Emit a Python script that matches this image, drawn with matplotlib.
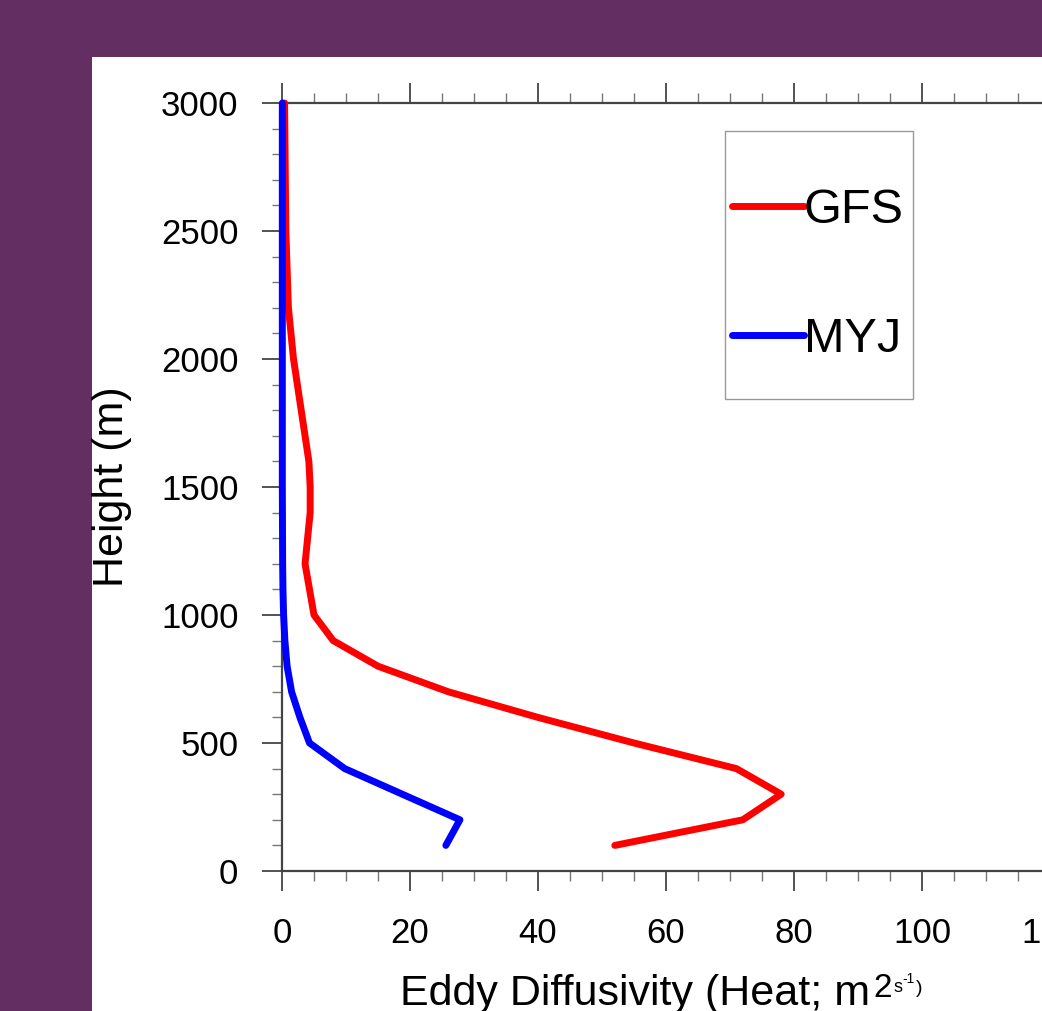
import matplotlib
matplotlib.use("Agg")
import matplotlib.pyplot as plt
from matplotlib.patches import Rectangle
from matplotlib.ticker import MultipleLocator

# ---- data ----
gfs_height = [100, 200, 300, 400, 500, 600, 700, 800, 900, 1000, 1200, 1300,
              1400, 1500, 1600, 1700, 2000, 2200, 2500, 3000]
gfs_k = [52, 72, 78, 71, 55, 40, 26, 15, 8, 5, 3.6, 4.0,
         4.4, 4.4, 4.2, 3.6, 1.8, 1.0, 0.6, 0.4]

myj_height = [100, 200, 300, 400, 500, 600, 700, 800, 900, 1000, 1100, 1200,
              1500, 2000, 2500, 3000]
myj_k = [25.6, 27.8, 18.8, 9.8, 4.3, 2.8, 1.5, 0.8, 0.45, 0.25, 0.15, 0.1,
         0.05, 0.05, 0.05, 0.05]

series_names = ["GFS", "MYJ"]
series_colors = ["#ff0000", "#0000ff"]
x_ticks = [0, 20, 40, 60, 80, 100, 120, 140]
y_ticks = [0, 500, 1000, 1500, 2000, 2500, 3000]

plt.rcParams['font.family'] = ['Liberation Sans', 'DejaVu Sans']

W, H = 1042, 1011
fig = plt.figure(figsize=(W / 100, H / 100), dpi=100)
purple = "#632E62"
fig.patch.set_facecolor(purple)
fig.patches.append(Rectangle((92 / W, 0), 1 - 92 / W, 1 - 57 / H,
                             transform=fig.transFigure, facecolor="white",
                             edgecolor="none", zorder=-10))

ax = fig.add_axes([282 / W, 1 - 871 / H, 896 / W, 768 / H])
ax.set_zorder(1)
ax.patch.set_alpha(0)
ax.set_xlim(0, 140)
ax.set_ylim(0, 3000)

l1, = ax.plot(gfs_k, gfs_height, color=series_colors[0], lw=5,
              solid_capstyle="round", solid_joinstyle="round", clip_on=False, zorder=3)
l2, = ax.plot(myj_k, myj_height, color=series_colors[1], lw=5,
              solid_capstyle="round", solid_joinstyle="round", clip_on=False, zorder=3)

spine_col = "#444444"
for s in ax.spines.values():
    s.set_color(spine_col)
    s.set_linewidth(1.6)

ax.set_xticks(x_ticks)
ax.set_yticks(y_ticks)
ax.xaxis.set_minor_locator(MultipleLocator(5))
ax.yaxis.set_minor_locator(MultipleLocator(100))
ax.tick_params(which="major", direction="out", length=14.4, width=1.3,
               color=spine_col, top=True, right=False, labeltop=False,
               labelsize=25)
ax.tick_params(which="minor", direction="out", length=7.2, width=1.0,
               color="#777777", top=True, right=False)
ax.tick_params(axis="x", which="major", pad=19)
ax.tick_params(axis="y", which="major", pad=17)

# legend
leg = fig.legend(handles=[l1, l2], labels=series_names, loc="center",
                 bbox_to_anchor=(818 / W, 1 - 275 / H), frameon=False, fontsize=35,
                 handlelength=1.48, handletextpad=0.0, labelspacing=1.71,
                 borderpad=0, borderaxespad=0)
leg.set_zorder(6)
fig.patches.append(Rectangle((725 / W, 1 - 399 / H), 188 / W, 268 / H,
                             transform=fig.transFigure, facecolor="none",
                             edgecolor="#999999", lw=1.0, zorder=5))

# axis labels
fig.text(112 / W, 1 - 487 / H, "Height (m)", rotation=90, ha="center",
         va="center", fontsize=31)

fig.canvas.draw()
renderer = fig.canvas.get_renderer()
pieces = [("Eddy Diffusivity (Heat; m", 31, 1005, 0),
          ("2", 24, 997, 3),
          ("s", 13, 992, 2),
          ("-1", 10, 983, 0),
          (")", 14, 993, 1)]
x = 400
for txt, size, base, gap in pieces:
    x += gap
    t = fig.text(x / W, 1 - base / H, txt, fontsize=size, ha="left", va="baseline")
    bb = t.get_window_extent(renderer)
    x = bb.x1

fig.savefig("out.png", dpi=100, facecolor=fig.get_facecolor())
